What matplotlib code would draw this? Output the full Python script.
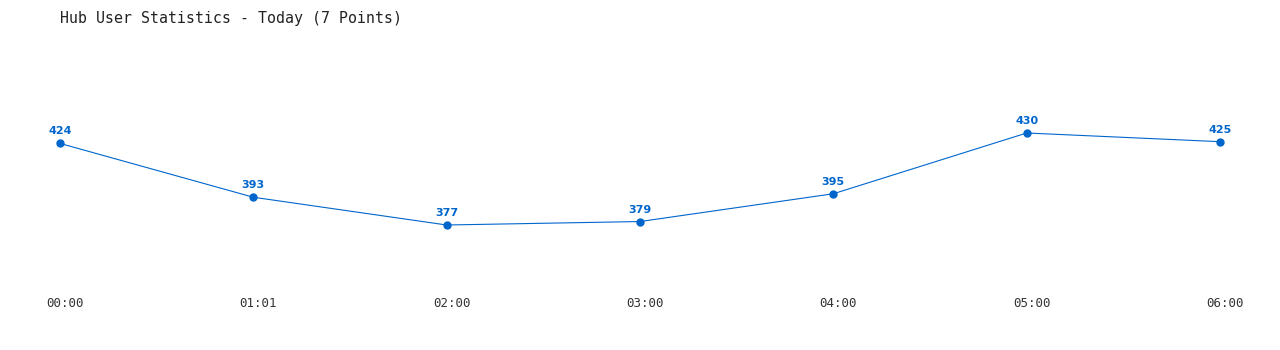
from matplotlib import pyplot as plt
from matplotlib import transforms

# hub user counts through the day
times = ["00:00", "01:01", "02:00", "03:00", "04:00", "05:00", "06:00"]
users = [424, 393, 377, 379, 395, 430, 425]

color = "#0066cc"

fig = plt.figure(figsize=(12.8, 3.5), dpi=100)
ax = fig.add_axes([0, 60 / 350, 1, 250 / 350])

x = list(range(len(times)))
ax.plot(x, users, color=color, linewidth=0.8, marker="o", markersize=5)

# value labels above the points
for xi, v in zip(x, users):
    ax.annotate(str(v), (xi, v), xytext=(0, 5), textcoords="offset points",
                ha="center", va="bottom", fontsize=8, fontweight="bold",
                color=color, family="DejaVu Sans")

ax.set_xlim(-0.3103, 6.3103)
ax.set_ylim(339.56, 483.57)
ax.set_xticks(x)
ax.set_xticklabels(times, family="DejaVu Sans Mono", fontsize=9, color="#333333")
ax.tick_params(axis="x", length=0, pad=5)
# labels sit a little to the right of the points
shift = transforms.ScaledTranslation(5 / 100, 0, fig.dpi_scale_trans)
for lbl in ax.get_xticklabels():
    lbl.set_transform(lbl.get_transform() + shift)
ax.set_yticks([])
for s in ax.spines.values():
    s.set_visible(False)

fig.text(60 / 1280, 1 - 18 / 350, "Hub User Statistics - Today (7 Points)",
         family="DejaVu Sans Mono", fontsize=10.7, color="#222222", va="center")

fig.savefig("out.png", dpi=100)
